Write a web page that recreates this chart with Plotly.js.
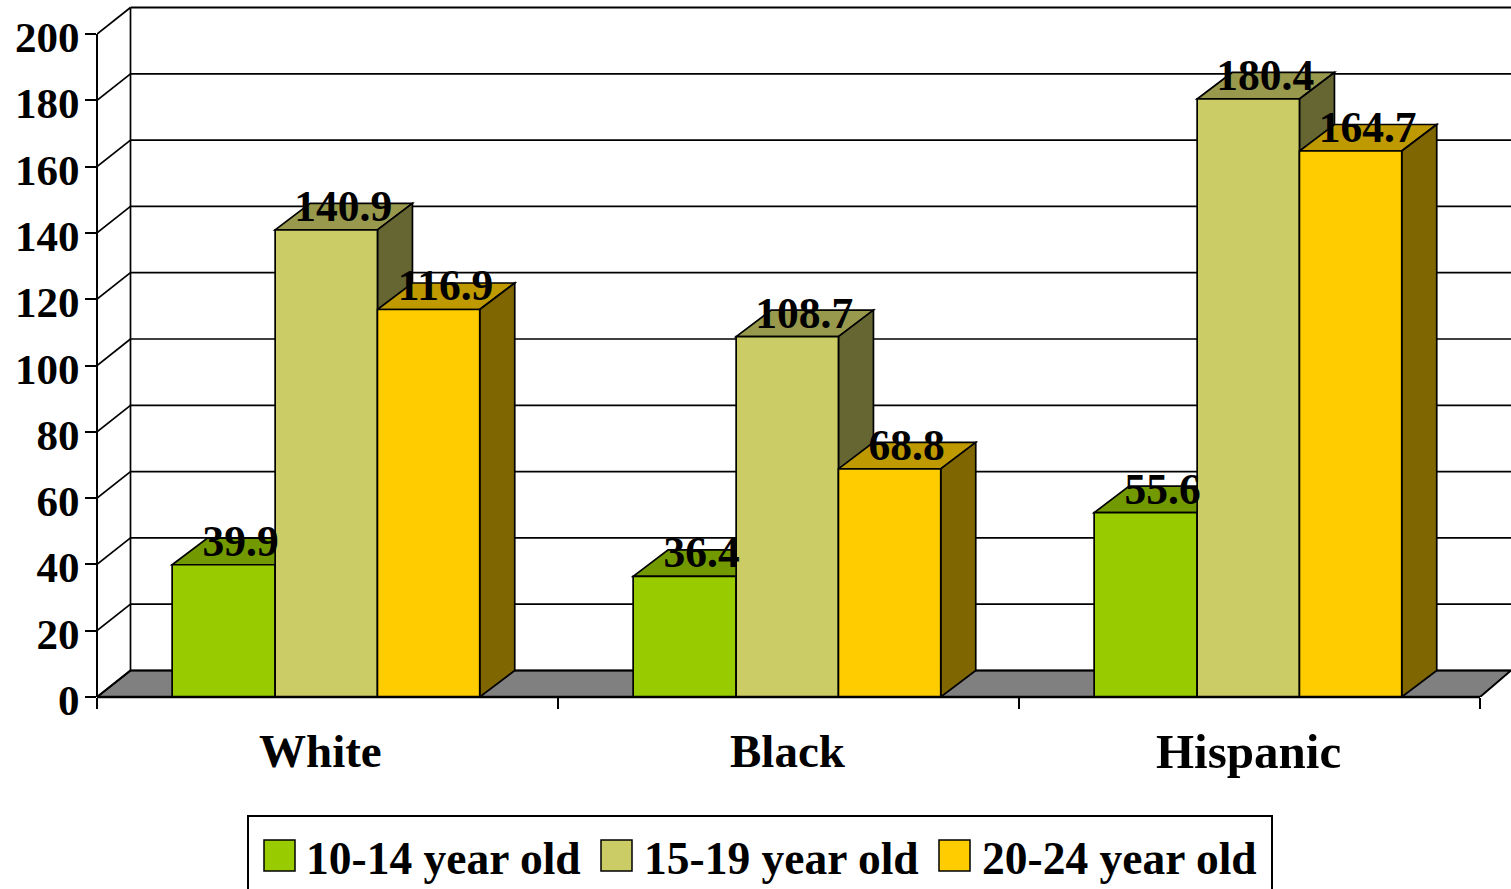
<!DOCTYPE html>
<html>
<head>
<meta charset="utf-8">
<script src="https://cdn.plot.ly/plotly-3.0.1.min.js"></script>
<style>html,body{margin:0;padding:0;background:#fff;overflow:hidden}</style>
</head>
<body>
<div id="chart" style="width:1511px;height:889px"></div>
<script>
const categories = ["White", "Black", "Hispanic"];
const seriesNames = ["10-14 year old", "15-19 year old", "20-24 year old"];
const age10to14 = [39.9, 36.4, 55.6];
const age15to19 = [140.9, 108.7, 180.4];
const age20to24 = [116.9, 68.8, 164.7];
const yTicks = [0, 20, 40, 60, 80, 100, 120, 140, 160, 180, 200];
const frontColors = ["#99CC00", "#CCCC66", "#FFCC00"];
const topColors = ["#739900", "#99994D", "#BF9900"];
const sideColors = ["#4D6600", "#666633", "#7F6600"];

const seriesValues = [age10to14, age15to19, age20to24];
const FONT = '"Liberation Serif", serif';
const PLOT = {l: 97, r: 0, t: 5, b: 192, w: 1414, h: 692};
const pxPerCat = 461, pxPerUnit = 3.315;
const wallDepthX = 33.5 / pxPerCat, barDepthX = 35 / pxPerCat, depthY = 26.5 / pxPerUnit;
const barW = [103 / pxPerCat, 102.3 / pxPerCat, 102.3 / pxPerCat];
const groupStart = -0.337;
const barStart = [groupStart, groupStart + barW[0], groupStart + barW[0] + barW[1]];
const xMin = -0.5, xMax = xMin + PLOT.w / pxPerCat, yMax = PLOT.h / pxPerUnit;
const px = v => (v - PLOT.l) / PLOT.w;
const py = v => (PLOT.t + PLOT.h - v) / PLOT.h;

const poly = (pts, fill, width) => ({
  type: "path", layer: "below", xref: "x", yref: "y",
  path: "M" + pts.map(p => p[0] + "," + p[1]).join("L") + "Z",
  fillcolor: fill, line: {color: "#000", width: width === undefined ? 1.7 : width}
});
const seg = (x0, y0, x1, y1, width, layer) => ({
  type: "line", layer: layer || "below", xref: "x", yref: "y",
  x0, y0, x1, y1, line: {color: "#000", width: width || 1.7}
});

const shapes = [];
// floor
shapes.push(poly([[xMin, 0], [xMin + wallDepthX, depthY], [xMax, depthY], [2.5, 0]], "#808080", 2));
// back wall grid and the diagonals on the side wall
yTicks.forEach(t => {
  shapes.push(seg(xMin + wallDepthX, t + depthY, xMax, t + depthY, t === 200 ? 2 : 1.7));
  shapes.push(seg(xMin, t, xMin + wallDepthX, t + depthY, 1.7));
});
shapes.push(seg(xMin + wallDepthX, depthY, xMin + wallDepthX, 200 + depthY, 1.7));
// 3-D faces of the bars: tops and sides behind the front faces
categories.forEach((c, i) => {
  seriesValues.forEach((vals, s) => {
    const x0 = i + barStart[s], x1 = x0 + barW[s], v = vals[i];
    shapes.push(poly([[x0, v], [x0 + barDepthX, v + depthY], [x1 + barDepthX, v + depthY], [x1, v]], topColors[s]));
    shapes.push(poly([[x1, 0], [x1 + barDepthX, depthY], [x1 + barDepthX, v + depthY], [x1, v]], sideColors[s]));
  });
});
// front axis lines
shapes.push({type: "line", layer: "above", xref: "paper", yref: "y", x0: 0, x1: 0, y0: 0, y1: 200, line: {color: "#000", width: 2}});
shapes.push({type: "line", layer: "above", xref: "x", yref: "paper", x0: xMin, x1: 2.5, y0: 0, y1: 0, line: {color: "#000", width: 2.5}});

// legend box and swatches
shapes.push({type: "rect", xref: "paper", yref: "paper", x0: px(248), x1: px(1272), y0: py(895), y1: py(816),
  line: {color: "#000", width: 2}, fillcolor: "#fff"});
const swatchLeft = [264, 601, 939], legendTextLeft = [304, 642, 980];
swatchLeft.forEach((l, s) => shapes.push({type: "rect", xref: "paper", yref: "paper",
  x0: px(l), x1: px(l + 31), y0: py(871), y1: py(840), fillcolor: frontColors[s], line: {color: "#000", width: 1.5}}));

const annotations = seriesNames.map((n, s) => ({
  xref: "paper", yref: "paper", x: px(legendTextLeft[s]), y: py(858), xanchor: "left", yanchor: "middle",
  text: "<b>" + n + "</b>", showarrow: false, align: "left",
  font: {family: FONT, size: 45.5, color: "#000"}
}));
const categoryCenters = [-0.015, -0.001, -0.002];
const categorySizes = [47, 47, 49];
categories.forEach((c, i) => annotations.push({
  xref: "x", yref: "paper", x: i + categoryCenters[i], y: py(751), xanchor: "center", yanchor: "middle",
  text: "<b>" + c + "</b>", showarrow: false,
  font: {family: FONT, size: categorySizes[i], color: "#000"}
}));

const barTraces = seriesValues.map((vals, s) => ({
  type: "bar", name: seriesNames[s], x: categories.map((c, i) => i), y: vals,
  width: barW[s], offset: barStart[s],
  marker: {color: frontColors[s], line: {color: "#000", width: 1.7}},
  hoverinfo: "y+name"
}));
const labelTraces = seriesValues.map((vals, s) => ({
  type: "scatter", mode: "text", showlegend: false, hoverinfo: "skip", cliponaxis: false,
  x: categories.map((c, i) => i + barStart[s] + barW[s] / 2 + 17 / pxPerCat),
  y: vals.map(v => v + 20 / pxPerUnit),
  text: vals.map(v => "<b>" + v.toFixed(1) + "</b>"),
  textposition: "middle center",
  textfont: {family: FONT, size: 43.5, color: "#000"}
}));

const layout = {
  width: 1511, height: 889, autosize: false,
  margin: {l: PLOT.l, r: PLOT.r, t: PLOT.t, b: PLOT.b, pad: 0},
  paper_bgcolor: "#fff", plot_bgcolor: "#fff",
  showlegend: false, barmode: "overlay",
  shapes, annotations,
  xaxis: {
    type: "linear", range: [xMin, xMax], showgrid: false, zeroline: false, showline: false,
    tickmode: "array", tickvals: [-0.5, 0.5, 1.5, 2.5], showticklabels: false,
    ticks: "outside", ticklen: 11, tickwidth: 2, tickcolor: "#000"
  },
  yaxis: {
    type: "linear", range: [0, yMax], showgrid: false, zeroline: false, showline: false,
    tickmode: "array", tickvals: yTicks, ticktext: yTicks.map(t => "<b>" + t + "</b>"),
    ticks: "outside", ticklen: 11, tickwidth: 2, tickcolor: "#000",
    ticklabelstandoff: -3, ticklabelshift: 3,
    tickfont: {family: FONT, size: 43, color: "#000"}
  },
  font: {family: FONT, color: "#000"}
};

Plotly.newPlot("chart", barTraces.concat(labelTraces), layout, {staticPlot: true, displayModeBar: false});
</script>
</body>
</html>
